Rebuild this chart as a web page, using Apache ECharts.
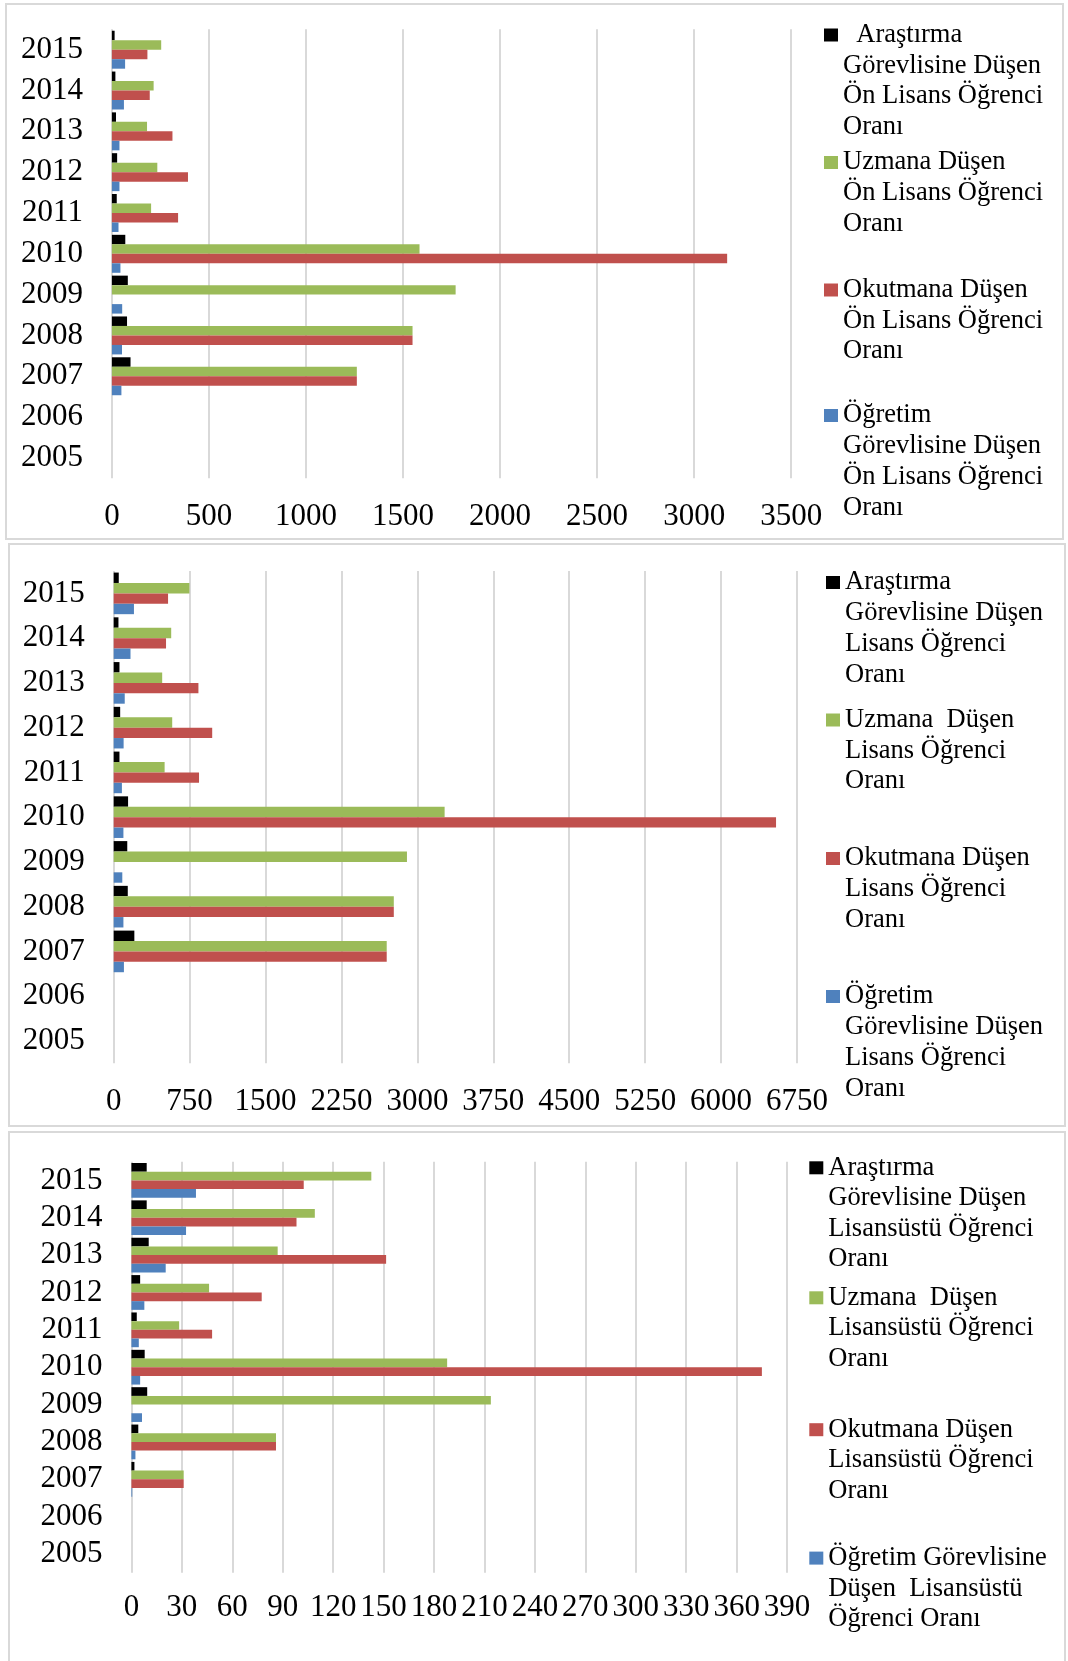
<!DOCTYPE html>
<html>
<head>
<meta charset="utf-8">
<script src="https://cdn.jsdelivr.net/npm/echarts@6/dist/echarts.min.js"></script>
<style>
    body { margin: 0; background: #fff; }
    .panel {
        position: absolute;
        border: 2px solid #d9d9d9;
        box-sizing: border-box;
        background: #fff;
    }
    .chart { width: 100%; height: 100%; }
</style>
</head>
<body>
<div class="panel" style="left:5px;top:3px;width:1059px;height:537px"><div class="chart" id="chartOnLisans"></div></div>
<div class="panel" style="left:8px;top:543px;width:1058px;height:584px"><div class="chart" id="chartLisans"></div></div>
<div class="panel" style="left:8px;top:1131px;width:1058px;height:540px"><div class="chart" id="chartLisansustu"></div></div>
<script>
const years = ['2005', '2006', '2007', '2008', '2009', '2010', '2011', '2012', '2013', '2014', '2015']

// Ön Lisans
const arastirmaOnLisans = [null, null, 96, 78, 82, 69, 25, 27, 21, 18, 14]
const uzmanOnLisans = [null, null, 1262, 1549, 1771, 1585, 202, 234, 181, 215, 254]
const okutmanOnLisans = [null, null, 1262, 1549, null, 3170, 341, 392, 312, 195, 183]
const ogretimOnLisans = [null, null, 49, 52, 53, 44, 34, 39, 39, 62, 68]

// Lisans
const arastirmaLisans = [null, null, 204, 139, 134, 142, 57, 64, 57, 47, 50]
const uzmanLisans = [null, null, 2697, 2767, 2897, 3269, 503, 578, 479, 568, 748]
const okutmanLisans = [null, null, 2697, 2767, null, 6543, 843, 973, 837, 517, 537]
const ogretimLisans = [null, null, 101, 96, 85, 96, 81, 98, 109, 166, 200]

// Lisansüstü
const arastirmaLisansustu = [null, null, 1.8, 4.1, 9.4, 7.9, 3.2, 5.2, 10.3, 9.1, 9.1]
const uzmanLisansustu = [null, null, 31.1, 86.0, 213.8, 187.8, 28.4, 46.2, 87.0, 109.1, 142.7]
const okutmanLisansustu = [null, null, 31.1, 86.0, null, 375, 48.0, 77.5, 151.5, 98.2, 102.5]
const ogretimLisansustu = [null, null, 0.5, 2.4, 6.3, 5.2, 4.4, 7.7, 20.4, 32.5, 38.4]

const legendOnLisans = [
    '  Araştırma\nGörevlisine Düşen\nÖn Lisans Öğrenci\nOranı',
    'Uzmana Düşen\nÖn Lisans Öğrenci\nOranı',
    'Okutmana Düşen\nÖn Lisans Öğrenci\nOranı',
    'Öğretim\nGörevlisine Düşen\nÖn Lisans Öğrenci\nOranı',
]
const legendLisans = [
    'Araştırma\nGörevlisine Düşen\nLisans Öğrenci\nOranı',
    'Uzmana  Düşen\nLisans Öğrenci\nOranı',
    'Okutmana Düşen\nLisans Öğrenci\nOranı',
    'Öğretim\nGörevlisine Düşen\nLisans Öğrenci\nOranı',
]
const legendLisansustu = [
    'Araştırma\nGörevlisine Düşen\nLisansüstü Öğrenci\nOranı',
    'Uzmana  Düşen\nLisansüstü Öğrenci\nOranı',
    'Okutmana Düşen\nLisansüstü Öğrenci\nOranı',
    'Öğretim Görevlisine\nDüşen  Lisansüstü\nÖğrenci Oranı',
]

const colors = ['#000000', '#9BBB59', '#C0504D', '#4F81BD']
const font = 'Liberation Serif'

function buildOption(p) {
    const names = p.legendText.map((t) => t.replace(/\s+/g, ' ').trim())
    const series = names.map((name, i) => ({
        name,
        type: 'bar',
        data: p.values[i],
        itemStyle: { color: colors[i] },
        barGap: '0%',
        barCategoryGap: '7%',
    }))
    // one legend per item; blank lines in front keep the square on the first text line
    const legend = names.map((name, i) => {
        const n = p.legendText[i].split('\n').length
        const text = '\n'.repeat(n - 1) + p.legendText[i]
        return {
            data: [name],
            orient: 'vertical',
            left: p.legendLeft,
            top: p.legendLineY[i] - (2 * n - 1) * p.lineH / 2,
            padding: 0,
            itemWidth: 14,
            itemHeight: 13,
            icon: 'rect',
            selectedMode: false,
            formatter: () => text,
            textStyle: {
                fontFamily: font,
                fontSize: 26.5,
                color: '#000',
                lineHeight: p.lineH,
            },
        }
    })
    return {
        animation: false,
        grid: {
            left: p.grid[0],
            top: p.grid[1],
            width: p.grid[2],
            height: p.grid[3],
            outerBoundsMode: 'none',
        },
        xAxis: {
            type: 'value',
            min: 0,
            max: p.max,
            interval: p.interval,
            axisLine: { show: false },
            axisTick: { show: false },
            splitLine: { show: true, lineStyle: { color: '#d9d9d9', width: 2 } },
            axisLabel: {
                fontFamily: font,
                fontSize: 31,
                color: '#000',
                margin: p.xMargin,
                formatter: (v) => String(v),
            },
        },
        yAxis: {
            type: 'category',
            data: years,
            axisLine: { show: false },
            axisTick: { show: false },
            splitLine: { show: false },
            axisLabel: { fontFamily: font, fontSize: 31, color: '#000', margin: p.yMargin, interval: 0 },
        },
        legend,
        series,
    }
}

const panels = [
    {
        id: 'chartOnLisans',
        values: [arastirmaOnLisans, uzmanOnLisans, okutmanOnLisans, ogretimOnLisans],
        legendText: legendOnLisans,
        grid: [104.9, 24.3, 679.3, 449],
        max: 3500,
        interval: 500,
        xMargin: 23.5,
        yMargin: 29,
        legendLeft: 817,
        legendLineY: [30, 157.5, 285, 410.5],
        lineH: 30.7,
    },
    {
        id: 'chartLisans',
        values: [arastirmaLisans, uzmanLisans, okutmanLisans, ogretimLisans],
        legendText: legendLisans,
        grid: [103.7, 26, 683.3, 492.3],
        max: 6750,
        interval: 750,
        xMargin: 23,
        yMargin: 29,
        legendLeft: 816,
        legendLineY: [37.5, 175, 313.5, 451.5],
        lineH: 30.7,
    },
    {
        id: 'chartLisansustu',
        values: [arastirmaLisansustu, uzmanLisansustu, okutmanLisansustu, ogretimLisansustu],
        legendText: legendLisansustu,
        grid: [121.4, 28.7, 655.7, 411],
        max: 390,
        interval: 30,
        xMargin: 20,
        yMargin: 29,
        legendLeft: 799.3,
        legendLineY: [34.8, 164.8, 296.7, 425.1],
        lineH: 30.5,
    },
]

panels.forEach((p) => {
    const myChart = echarts.init(document.getElementById(p.id))
    myChart.setOption(buildOption(p))
})
</script>
</body>
</html>
